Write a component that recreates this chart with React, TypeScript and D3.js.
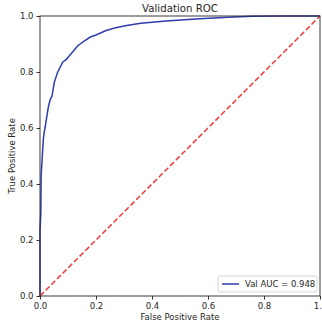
import React, { useEffect, useRef } from 'react';
import * as d3 from 'd3';

// ROC points (false positive rate, true positive rate)
const fprValues = [0, 0, 0.003, 0.004, 0.006, 0.01, 0.012, 0.015, 0.018, 0.021, 0.03, 0.036, 0.043, 0.051, 0.063, 0.081, 0.095, 0.105, 0.135, 0.16, 0.18, 0.2, 0.236, 0.27, 0.31, 0.36, 0.45, 0.57, 0.69, 0.76, 0.85, 1];
const tprValues = [0, 0.236, 0.3, 0.43, 0.46, 0.53, 0.56, 0.585, 0.6, 0.62, 0.676, 0.7, 0.715, 0.763, 0.799, 0.835, 0.846, 0.858, 0.894, 0.912, 0.925, 0.932, 0.948, 0.958, 0.966, 0.974, 0.982, 0.99, 0.996, 0.999, 1, 1];
const tickValues = [0, 0.2, 0.4, 0.6, 0.8, 1.0];
const chanceLine = [[0, 0], [1, 1]];
const aucLabel = 'Val AUC = 0.948';

function App() {
    const svgRef = useRef<SVGSVGElement>(null);

    useEffect(() => {
        const margin = { top: 16, left: 40 };
        const width = 280;
        const height = 280;
        const font = 'DejaVu Sans, sans-serif';

        const svg = d3.select(svgRef.current);
        svg.selectAll('*').remove();

        const g = svg.append('g')
            .attr('transform', `translate(${margin.left}, ${margin.top})`);

        const x = d3.scaleLinear().domain([0, 1]).range([0, width]);
        const y = d3.scaleLinear().domain([0, 1]).range([height, 0]);

        const data = fprValues.map((f, i) => ({ fpr: f, tpr: tprValues[i] }));

        // ROC curve
        g.append('path')
            .datum(data)
            .attr('fill', 'none')
            .attr('stroke', '#2d3cae')
            .attr('stroke-width', 1.5)
            .attr('d', d3.line<{ fpr: number; tpr: number }>()
                .x((d) => x(d.fpr))
                .y((d) => y(d.tpr)));

        // chance diagonal
        g.append('path')
            .datum(chanceLine)
            .attr('fill', 'none')
            .attr('stroke', '#f03a3a')
            .attr('stroke-width', 1.5)
            .attr('stroke-dasharray', '5.5,2.5')
            .attr('d', d3.line<number[]>()
                .x((d) => x(d[0]))
                .y((d) => y(d[1])));

        // axes
        const xAxis = g.append('g')
            .attr('transform', `translate(0, ${height})`)
            .call(d3.axisBottom(x).tickValues(tickValues).tickFormat(d3.format('.1f')).tickSizeOuter(0).tickSize(3.5).tickPadding(3));
        const yAxis = g.append('g')
            .call(d3.axisLeft(y).tickValues(tickValues).tickFormat(d3.format('.1f')).tickSizeOuter(0).tickSize(3.5).tickPadding(3));

        [xAxis, yAxis].forEach((ax) => {
            ax.select('.domain').remove();
            ax.selectAll('line').attr('stroke', '#333');
            ax.selectAll('text')
                .style('font-family', font)
                .style('font-size', '8.5px')
                .attr('fill', '#262626');
        });

        // frame
        g.append('rect')
            .attr('width', width)
            .attr('height', height)
            .attr('fill', 'none')
            .attr('stroke', '#262626')
            .attr('stroke-width', 0.9);

        // title and axis labels
        svg.append('text')
            .attr('x', margin.left + width / 2)
            .attr('y', 12)
            .attr('text-anchor', 'middle')
            .style('font-family', font)
            .style('font-size', '10.2px')
            .attr('fill', '#262626')
            .text('Validation ROC');

        svg.append('text')
            .attr('x', margin.left + width / 2)
            .attr('y', 320)
            .attr('text-anchor', 'middle')
            .style('font-family', font)
            .style('font-size', '8.5px')
            .attr('fill', '#262626')
            .text('False Positive Rate');

        svg.append('text')
            .attr('transform', `translate(15, ${margin.top + height / 2}) rotate(-90)`)
            .attr('text-anchor', 'middle')
            .style('font-family', font)
            .style('font-size', '8.5px')
            .attr('fill', '#262626')
            .text('True Positive Rate');

        // legend
        const legend = g.append('g')
            .attr('transform', `translate(${178}, ${260})`);
        legend.append('rect')
            .attr('width', 99)
            .attr('height', 16)
            .attr('rx', 2)
            .attr('fill', 'white')
            .attr('fill-opacity', 0.8)
            .attr('stroke', '#d6d6d6');
        legend.append('line')
            .attr('x1', 4)
            .attr('x2', 21)
            .attr('y1', 8)
            .attr('y2', 8)
            .attr('stroke', '#2d3cae')
            .attr('stroke-width', 1.5);
        legend.append('text')
            .attr('x', 27)
            .attr('y', 11)
            .style('font-family', font)
            .style('font-size', '8.5px')
            .attr('fill', '#262626')
            .text(aucLabel);
    }, []);

    return (
        <svg ref={svgRef} width={322} height={327}
            style={{ position: 'absolute', left: 0, top: 0, background: 'white' }} />
    );
}

export default App;
